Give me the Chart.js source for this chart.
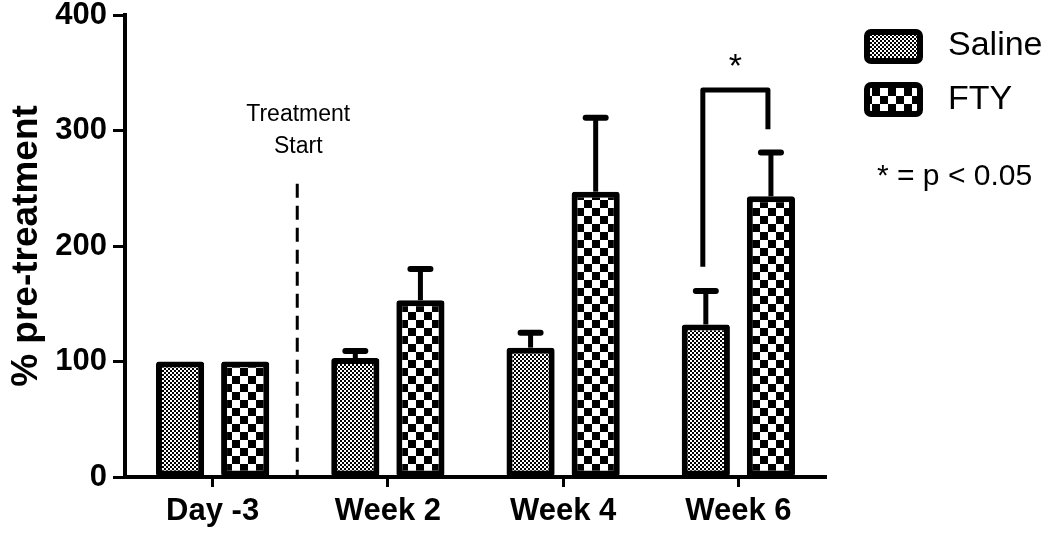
<!DOCTYPE html>
<html><head><meta charset="utf-8">
<script src="https://cdn.jsdelivr.net/npm/chart.js@4.4.1/dist/chart.umd.min.js"></script>
<style>html,body{margin:0;padding:0;background:#fff}#wrap{width:1050px;height:536px;position:relative}</style>
</head><body><div id="wrap"><canvas id="c"></canvas></div>
<script>
const categories = ['Day -3', 'Week 2', 'Week 4', 'Week 6'];
const seriesLabels = ['Saline', 'FTY'];
const salineValues = [100, 103, 112, 132];
const salineErrors = [0, 6, 13, 29];
const ftyValues = [100, 153, 247, 243];
const ftyErrors = [0, 27, 64, 38];
const yTicks = [0, 100, 200, 300, 400];
const yTitle = '% pre-treatment';
const treatmentText = ['Treatment', 'Start'];
const treatmentLineTop = 254;
const sigNote = '* = p < 0.05';
const bracketCategory = 3;
const bracketTop = 335;
const bracketLeftBottom = 182;
const bracketRightBottom = 301;
const bracketLabel = '*';

const F = '"Liberation Sans", Arial, Helvetica, sans-serif';
const canvas = document.getElementById('c');
const ctx0 = canvas.getContext('2d');

function checker(cell) {
  const c = document.createElement('canvas');
  c.width = c.height = cell * 2;
  const g = c.getContext('2d');
  g.fillStyle = '#fff'; g.fillRect(0, 0, cell * 2, cell * 2);
  g.fillStyle = '#000';
  g.fillRect(0, 0, cell, cell); g.fillRect(cell, cell, cell, cell);
  return ctx0.createPattern(c, 'repeat');
}
const salinePattern = checker(2);
const ftyPattern = checker(8);
const errors = [salineErrors, ftyErrors];

const extras = {
  id: 'extras',
  afterDatasetsDraw(chart) {
    const ctx = chart.ctx, x = chart.scales.x, y = chart.scales.y;
    ctx.save();
    ctx.strokeStyle = '#000'; ctx.fillStyle = '#000';
    chart.data.datasets.forEach((ds, di) => {
      const meta = chart.getDatasetMeta(di);
      meta.data.forEach((bar, i) => {
        const e = errors[di][i];
        if (!e) return;
        const yt = y.getPixelForValue(ds.data[i] + e);
        ctx.lineWidth = 5; ctx.lineCap = 'butt';
        ctx.beginPath(); ctx.moveTo(bar.x, bar.y); ctx.lineTo(bar.x, yt); ctx.stroke();
        ctx.lineWidth = 6; ctx.lineCap = 'round';
        ctx.beginPath(); ctx.moveTo(bar.x - 10, yt); ctx.lineTo(bar.x + 10, yt); ctx.stroke();
      });
    });
    const xd = (x.getPixelForValue(0) + x.getPixelForValue(1)) / 2 - 3;
    ctx.lineWidth = 3; ctx.lineCap = 'butt';
    ctx.setLineDash([14, 8]);
    ctx.beginPath(); ctx.moveTo(xd, y.getPixelForValue(treatmentLineTop)); ctx.lineTo(xd, y.getPixelForValue(0)); ctx.stroke();
    ctx.setLineDash([]);
    ctx.font = '23px ' + F; ctx.textAlign = 'center'; ctx.textBaseline = 'middle';
    ctx.fillText(treatmentText[0], xd + 1, 115);
    ctx.fillText(treatmentText[1], xd + 1, 147);
    const b0 = chart.getDatasetMeta(0).data[bracketCategory];
    const b1 = chart.getDatasetMeta(1).data[bracketCategory];
    const xl = b0.x - 3, xr = b1.x - 3;
    ctx.lineWidth = 5; ctx.lineJoin = 'round';
    ctx.beginPath();
    ctx.moveTo(xl, y.getPixelForValue(bracketLeftBottom));
    ctx.lineTo(xl, y.getPixelForValue(bracketTop));
    ctx.lineTo(xr, y.getPixelForValue(bracketTop));
    ctx.lineTo(xr, y.getPixelForValue(bracketRightBottom));
    ctx.stroke();
    ctx.font = '34px ' + F;
    ctx.fillText(bracketLabel, (xl + xr) / 2, 68);
    const pats = [salinePattern, ftyPattern];
    const rows = [[30, 46], [83, 100]];
    chart.data.datasets.forEach((ds, di) => {
      const [by, ty] = rows[di];
      ctx.beginPath(); ctx.roundRect(867, by + 2, 53, 29, 4);
      ctx.fillStyle = pats[di]; ctx.fill();
      ctx.lineWidth = 6; ctx.strokeStyle = '#000'; ctx.stroke();
      ctx.fillStyle = '#000'; ctx.font = '34px ' + F; ctx.textAlign = 'left';
      ctx.fillText(ds.label, 948, ty);
    });
    ctx.font = '30px ' + F;
    ctx.fillText(sigNote, 877, 177);
    ctx.restore();
  }
};

new Chart(canvas, {
  type: 'bar',
  data: {
    labels: categories,
    datasets: [
      { label: seriesLabels[0], data: salineValues, backgroundColor: salinePattern },
      { label: seriesLabels[1], data: ftyValues, backgroundColor: ftyPattern }
    ]
  },
  options: {
    responsive: true, maintainAspectRatio: false, animation: false, devicePixelRatio: 1,
    layout: { padding: { left: 0, right: 224, top: 15, bottom: 0 } },
    datasets: { bar: { borderColor: '#000', borderWidth: 6, borderSkipped: false, borderRadius: 3,
      categoryPercentage: 0.743, barPercentage: 0.74 } },
    plugins: { legend: { display: false }, tooltip: { enabled: false } },
    scales: {
      x: {
        afterFit: s => { s.height = 59; s.paddingLeft = 0; s.paddingRight = 0; },
        border: { display: true, color: '#000', width: 4 },
        grid: { offset: false, drawOnChartArea: false, drawTicks: true, tickLength: 10, tickWidth: 3, tickColor: '#000' },
        ticks: { color: '#000', font: { family: F, size: 31, weight: 'bold' }, padding: 6 }
      },
      y: {
        min: 0, max: 400,
        afterBuildTicks: s => { s.ticks = yTicks.map(v => ({ value: v })); },
        afterFit: s => { s.width = 125; s.paddingTop = 0; s.paddingBottom = 0; },
        border: { display: true, color: '#000', width: 4 },
        grid: { drawOnChartArea: false, drawTicks: true, tickLength: 12, tickWidth: 3, tickColor: '#000' },
        ticks: { color: '#000', font: { family: F, size: 31, weight: 'bold' }, padding: 6 },
        title: { display: true, text: yTitle, color: '#000', font: { family: F, size: 37, weight: 'bold' }, padding: { top: 5, bottom: 0 } }
      }
    }
  },
  plugins: [extras]
});
</script></body></html>
